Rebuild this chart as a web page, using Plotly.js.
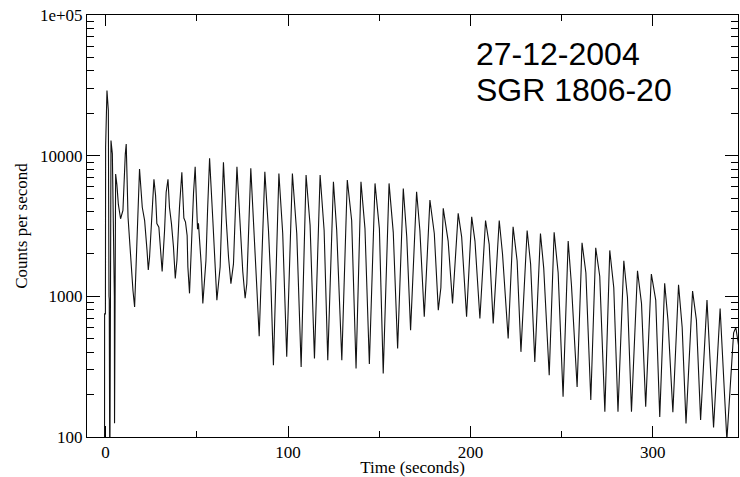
<!DOCTYPE html>
<html>
<head>
<meta charset="utf-8">
<script src="https://cdn.plot.ly/plotly-3.0.1.min.js"></script>
<style>html,body{margin:0;padding:0;background:#fff;}#chart{width:740px;height:477px;}</style>
</head>
<body>
<div id="chart"></div>
<script>
// Time (seconds) of the light-curve samples
const timeSec = [
  -0.6, -0.55, -0.1, 0.0, 0.75, 1.5, 1.85, 2.0, 2.3, 2.95, 3.7, 4.4, 4.8, 4.9, 5.5, 6.2, 7.0, 8.2, 9.5, 10.8, 11.3,
  12.3, 13.3, 15.0, 15.9, 16.8, 17.7, 18.6, 20.1, 21.4, 22.7, 23.4, 24.1, 25.6, 26.5, 27.4, 28.1, 29.2,
  30.3, 31.0, 32.3, 33.2, 34.2, 35.0, 36.1, 37.2, 38.2, 39.1, 40.5, 41.8, 42.9, 43.8, 44.7, 45.1, 46.0,
  47.1, 48.2, 49.1, 50.4, 50.9, 52.4, 53.3, 55.0, 55.9, 57.0, 58.8, 60.1, 61.0, 62.8, 63.7, 64.6, 66.1,
  67.4, 68.7, 70.1, 72.0, 73.8, 75.2, 76.5, 77.4, 79.6, 81.4, 82.9, 84.2, 85.1, 87.3, 89.3, 90.6, 92.0,
  95.0, 97.1, 99.3, 102.4, 104.8, 107.2, 109.9, 112.1, 114.5, 117.6, 119.8, 121.8, 124.9, 126.7, 129.5,
  132.5, 134.9, 137.3, 140.0, 142.2, 144.6, 147.7, 150.1, 152.2, 155.4, 157.7, 160.1, 163.2, 165.1, 167.2,
  170.5, 172.3, 174.7, 177.8, 180.2, 182.4, 183.8, 185.1, 187.8, 190.2, 193.3, 195.2, 197.9, 200.7, 202.5,
  205.2, 208.3, 210.3, 212.5, 215.8, 217.6, 220.7, 223.4, 225.6, 227.7, 231.1, 233.0, 235.3, 238.4, 240.2,
  243.2, 245.9, 248.1, 250.8, 253.6, 255.4, 258.5, 261.2, 263.3, 266.0, 268.7, 270.9, 273.7, 276.4, 278.6,
  280.9, 284.1, 286.1, 288.3, 291.6, 293.8, 296.1, 299.2, 301.6, 303.8, 306.5, 308.3, 311.0, 314.1, 316.1,
  318.2, 321.8, 323.9, 326.2, 329.7, 331.1, 333.3, 336.9, 338.2, 340.6, 344.3, 345.5, 347.0
];
// Counts per second at those times
const countsPerSec = [
  30, 750, 750, 11500, 29000, 21000, 1000, 950, 40, 12800, 10300, 1000, 1000, 125, 7400, 6200, 4500, 3560, 4080, 10300, 12100,
  3650, 2200, 1100, 840, 1820, 4080, 8050, 4300, 3450, 2130, 1540, 1900, 3850, 6800, 5200, 3290, 3100,
  2000, 1500, 2900, 5500, 6800, 4300, 3290, 2250, 1340, 1800, 4300, 7620, 3600, 3370, 2700, 1620, 1050,
  2600, 5400, 8340, 3000, 3300, 1700, 890, 1790, 4070, 9570, 3460, 1500, 940, 1620, 3830, 8990, 3560,
  1890, 1230, 1700, 8340, 3300, 1500, 970, 1230, 8120, 3120, 1150, 520, 1150, 7680, 2940, 1250, 324,
  7470, 2800, 372, 7470, 2800, 315, 7280, 3210, 362, 7280, 2940, 352, 6520, 2940, 352,
  6710, 3460, 307, 6520, 3030, 330, 6350, 3030, 283, 6350, 2850, 426, 5850, 2650, 575,
  5540, 2940, 715, 4830, 2800, 798, 1150, 4220, 2470, 890, 3890, 2650, 715, 3670, 2470,
  696, 3460, 2340, 641, 3460, 2000, 501, 3120, 1790, 403, 2940, 1700, 342, 2800, 1580,
  275, 2850, 1470, 193, 2470, 1200, 227, 2400, 1470, 183, 2210, 1390, 151, 2120, 1150,
  151, 1790, 980, 151, 1520, 890, 164, 1440, 940, 139, 1240, 677, 150, 1210, 600,
  125, 1090, 677, 132, 940, 414, 117, 820, 352, 95, 550, 600, 450
];
const xTickVals = [0, 100, 200, 300];
const xMinorVals = [50, 150, 250];
const yTickVals = [100, 1000, 10000, 100000];
const yTickText = ['100', '1000', '10000', '1e+05'];
const yMinorVals = [200,300,400,500,600,700,800,900,2000,3000,4000,5000,6000,7000,8000,9000,20000,30000,40000,50000,60000,70000,80000,90000];
const noteLines = ['27-12-2004', 'SGR 1806-20'];

const serif = {family: 'Liberation Serif, Times New Roman, serif', size: 17, color: '#000'};

const trace = {
  x: timeSec, y: countsPerSec, type: 'scatter', mode: 'lines',
  line: {color: '#111', width: 1.1}, hoverinfo: 'skip'
};

const layout = {
  width: 740, height: 477,
  margin: {l: 87, r: 2, t: 15, b: 40},
  paper_bgcolor: '#fff', plot_bgcolor: '#fff',
  showlegend: false,
  xaxis: {
    range: [-10.2, 346.7], tickmode: 'array', tickvals: xTickVals,
    ticks: 'inside', ticklen: 11, tickwidth: 1, tickcolor: '#000',
    showline: true, linecolor: '#000', linewidth: 1, mirror: 'allticks',
    showgrid: false, zeroline: false, tickfont: serif,
    minor: {tickmode: 'array', tickvals: xMinorVals, ticks: 'inside', ticklen: 6, tickwidth: 1, tickcolor: '#000', showgrid: false},
    title: {text: 'Time (seconds)', font: serif, standoff: 4}
  },
  yaxis: {
    type: 'log', range: [2, 5], tickmode: 'array', tickvals: yTickVals, ticktext: yTickText,
    ticks: 'inside', ticklen: 13, tickwidth: 1, tickcolor: '#000',
    showline: true, linecolor: '#000', linewidth: 1, mirror: 'allticks',
    showgrid: false, zeroline: false, tickfont: serif,
    minor: {tickmode: 'array', tickvals: yMinorVals, ticks: 'inside', ticklen: 7, tickwidth: 1, tickcolor: '#000', showgrid: false},
    title: {text: 'Counts per second', font: serif, standoff: 8}
  },
  annotations: noteLines.map((txt, i) => ({
    text: txt, xref: 'paper', yref: 'paper', x: 0.594, y: i === 0 ? 0.908 : 0.822,
    xanchor: 'left', yanchor: 'middle', showarrow: false,
    font: {family: 'Liberation Sans, Arial, sans-serif', size: 32, color: '#000'}
  }))
};

Plotly.newPlot('chart', [trace], layout, {staticPlot: true, displayModeBar: false});
</script>
</body>
</html>
